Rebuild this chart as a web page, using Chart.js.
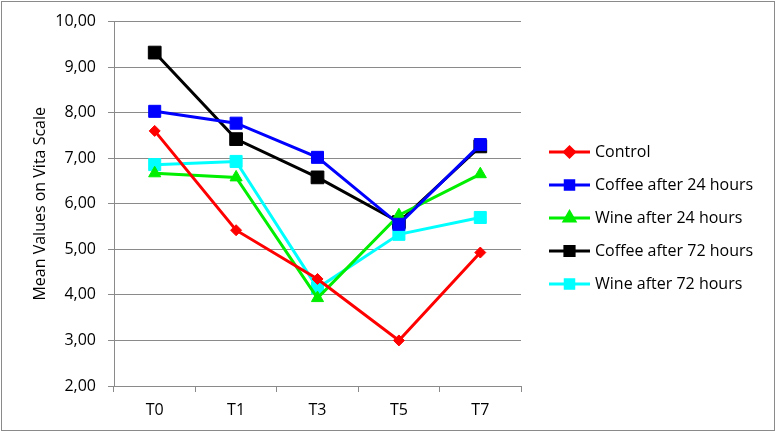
<!DOCTYPE html>
<html><head><meta charset="utf-8">
<script src="https://cdn.jsdelivr.net/npm/chart.js@4.4.1/dist/chart.umd.min.js"></script>
<style>html,body{margin:0;padding:0;background:#fff}#wrap{width:776px;height:433px;position:relative}</style>
</head><body><div id="wrap"><canvas id="c" width="776" height="433"></canvas></div>
<script>
const categories = ["T0","T1","T3","T5","T7"];
const control = [7.60, 5.42, 4.35, 3.00, 4.93];
const coffee24 = [8.03, 7.77, 7.02, 5.55, 7.30];
const wine24 = [6.67, 6.58, 3.93, 5.75, 6.65];
const coffee72 = [9.32, 7.42, 6.58, 5.60, 7.26];
const wine72 = [6.86, 6.93, 4.15, 5.33, 5.70];
const yTicks = [2,3,4,5,6,7,8,9,10];
const seriesNames = ["Control","Coffee after 24 hours","Wine after 24 hours","Coffee after 72 hours","Wine after 72 hours"];

const FONT = "'Open Sans', Lato, sans-serif";
const mk = (label, data, color, style, r, lr) => ({
  label, data, borderColor: color, backgroundColor: color, borderWidth: 3,
  pointStyle: style, pointRadius: r, pointHoverRadius: r, pointBorderWidth: 1, tension: 0,
  legendRadius: lr
});

const frame = {
  id: 'frame',
  beforeDraw(chart) {
    const ctx = chart.ctx;
    ctx.save();
    ctx.strokeStyle = '#8a8a8a';
    ctx.lineWidth = 1;
    ctx.strokeRect(1.5, 1.5, 773, 429);
    ctx.restore();
  }
};

const lineLegend = {
  id: 'lineLegend',
  afterDraw(chart) {
    const ctx = chart.ctx;
    ctx.save();
    const x0 = 549, x1 = 590, tx = 595, y0 = 152, dy = 33;
    chart.data.datasets.forEach((ds, i) => {
      const y = y0 + i * dy;
      ctx.strokeStyle = ds.borderColor;
      ctx.lineWidth = 3;
      ctx.beginPath(); ctx.moveTo(x0, y); ctx.lineTo(x1, y); ctx.stroke();
      ctx.fillStyle = ds.borderColor;
      ctx.strokeStyle = ds.borderColor;
      Chart.helpers.drawPoint(ctx, {pointStyle: ds.pointStyle, radius: ds.legendRadius, borderWidth: 1}, (x0 + x1) / 2, y);
      ctx.fillStyle = '#000';
      ctx.font = "16px " + FONT;
      ctx.textBaseline = 'middle';
      ctx.textAlign = 'left';
      ctx.fillText(ds.label, tx, y);
    });
    ctx.restore();
  }
};

new Chart(document.getElementById('c'), {
  type: 'line',
  data: {
    labels: categories,
    datasets: [
      mk(seriesNames[0], control, '#ff0000', 'rectRot', 5.5, 5),
      mk(seriesNames[1], coffee24, '#0000ff', 'rect', 8.5, 6),
      mk(seriesNames[2], wine24, '#00ee00', 'triangle', 7, 6),
      mk(seriesNames[3], coffee72, '#000000', 'rect', 9, 6.5),
      mk(seriesNames[4], wine72, '#00ffff', 'rect', 8.5, 6)
    ]
  },
  options: {
    responsive: false,
    animation: false,
    layout: { padding: { left: 31, right: 255, top: 21, bottom: 8 } },
    plugins: { legend: { display: false }, tooltip: { enabled: false } },
    scales: {
      x: {
        offset: true,
        grid: { offset: true, drawOnChartArea: false, drawTicks: true, tickLength: 6, color: '#8a8a8a', lineWidth: 1 },
        border: { color: '#8a8a8a', width: 1 },
        ticks: { color: '#000', font: { family: FONT, size: 16 }, padding: 9 },
        afterFit(s) { s.height = 39; }
      },
      y: {
        min: 2, max: 10,
        afterBuildTicks(s) { s.ticks = yTicks.map(v => ({ value: v })); },
        grid: { color: '#8a8a8a', lineWidth: 1, tickLength: 6 },
        border: { color: '#8a8a8a', width: 1 },
        ticks: { color: '#000', font: { family: FONT, size: 16 }, padding: 12,
          callback: v => v.toFixed(2).replace('.', ',') },
        title: { display: true, text: 'Mean Values on Vita Scale', color: '#000', font: { family: FONT, size: 16 }, padding: 0 },
        afterFit(s) { s.width = 83; }
      }
    }
  },
  plugins: [frame, lineLegend]
});
</script></body></html>
